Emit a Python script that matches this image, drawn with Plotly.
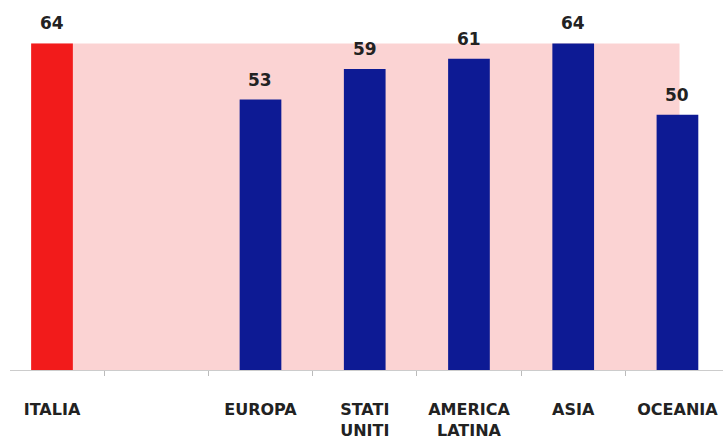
import plotly.graph_objects as go

categories = ["ITALIA", " ", "EUROPA", "STATI UNITI", "AMERICA LATINA", "ASIA", "OCEANIA"]
tick_labels = ["ITALIA", "", "EUROPA", "STATI<br>UNITI", "AMERICA<br>LATINA", "ASIA", "OCEANIA"]
values = [64, None, 53, 59, 61, 64, 50]
bar_colors = ["#F21B1B", "#0D1A94", "#0D1A94", "#0D1A94", "#0D1A94", "#0D1A94", "#0D1A94"]
background_value = 64

FONT = "DejaVu Sans"

fig = go.Figure()
fig.add_trace(go.Bar(
    x=categories,
    y=values,
    marker=dict(color=bar_colors, line=dict(width=0)),
    width=0.4,
    hoverinfo="skip",
))

# pink background band behind the bars
fig.add_shape(type="rect", xref="x", yref="y", x0=-0.2, x1=6.02, y0=0, y1=background_value,
              fillcolor="#FBD3D3", line=dict(width=0), layer="below")

for c, v in zip(categories, values):
    if v is None:
        continue
    fig.add_annotation(x=c, y=v, xref="x", yref="y", text=str(v), showarrow=False,
                       yanchor="bottom", yshift=8,
                       font=dict(family=FONT, size=17, color="#222222", weight="bold"))

fig.update_layout(
    width=723, height=446,
    margin=dict(l=10, r=0, t=0, b=76),
    paper_bgcolor="white", plot_bgcolor="white",
    showlegend=False,
    bargap=0.6,
)
fig.update_xaxes(
    type="category",
    categoryorder="array", categoryarray=categories,
    range=[-0.403, 6.437],
    tickmode="array", tickvals=categories, ticktext=tick_labels,
    tickson="boundaries", ticks="outside", ticklen=5, tickcolor="#BBBBBB", tickwidth=1,
    showline=True, linecolor="#CCCCCC", linewidth=1,
    showgrid=False, zeroline=False,
    ticklabelstandoff=25,
    tickfont=dict(family=FONT, size=16, color="#222222", weight="bold"),
)
fig.update_yaxes(
    range=[0, 72.5], visible=False, showgrid=False, zeroline=False,
)

fig.write_html("out.html")
